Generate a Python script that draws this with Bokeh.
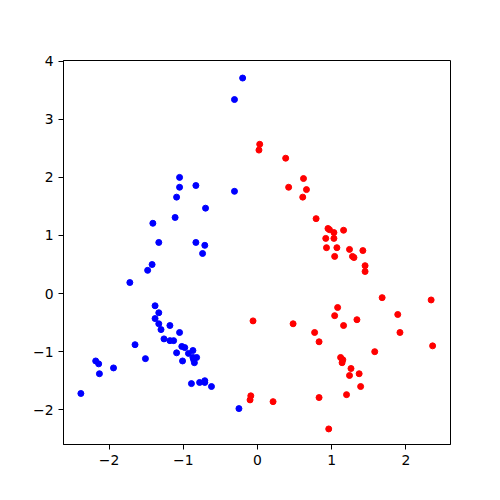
from bokeh.plotting import figure
from bokeh.models import Range1d, FixedTicker
from bokeh.embed import file_html
from bokeh.resources import INLINE

blue_x = [-0.20, -0.31, -1.05, -1.05, -0.83, -0.31, -1.09, -0.70, -1.11, -1.41,
          -1.33, -0.83, -0.71, -0.74, -1.42, -1.48, -1.72, -1.38, -1.33, -1.38,
          -1.33, -1.18, -1.30, -1.05, -1.26, -1.18, -1.13, -1.02, -0.98, -0.87,
          -0.93, -1.09, -0.87, -0.82, -1.01, -0.86, -0.85, -1.65, -1.51, -2.18,
          -2.14, -1.94, -2.13, -2.38, -0.89, -0.78, -0.71, -0.71, -0.62, -0.25]
blue_y = [3.71, 3.34, 2.00, 1.83, 1.86, 1.76, 1.66, 1.47, 1.31, 1.21,
          0.88, 0.88, 0.83, 0.69, 0.50, 0.40, 0.19, -0.21, -0.33, -0.43,
          -0.52, -0.55, -0.62, -0.67, -0.78, -0.81, -0.81, -0.91, -0.93, -0.98,
          -1.03, -1.02, -1.10, -1.10, -1.16, -1.14, -1.19, -0.88, -1.12, -1.16,
          -1.21, -1.28, -1.38, -1.72, -1.55, -1.53, -1.50, -1.53, -1.60, -1.98]

red_x = [0.03, 0.02, 0.38, 0.62, 0.42, 0.66, 0.61, 0.79, 0.95, 0.97,
         1.03, 1.16, 0.92, 1.03, 0.93, 1.07, 1.24, 1.42, 1.04, 1.28,
         1.30, 1.45, 1.45, 1.68, 2.34, 1.08, 1.04, 1.89, 1.34, -0.06,
         0.48, 1.16, 0.77, 1.92, 0.83, 2.36, 1.58, 1.12, 1.15, 1.14,
         1.26, 1.24, 1.37, 1.39, -0.09, -0.10, 0.21, 0.83, 1.20, 0.96]
red_y = [2.57, 2.47, 2.33, 1.98, 1.83, 1.79, 1.66, 1.29, 1.12, 1.10,
         1.05, 1.09, 0.95, 0.95, 0.79, 0.79, 0.76, 0.74, 0.64, 0.64,
         0.62, 0.48, 0.38, -0.07, -0.11, -0.24, -0.38, -0.36, -0.45, -0.47,
         -0.52, -0.55, -0.67, -0.67, -0.83, -0.90, -1.00, -1.10, -1.14, -1.19,
         -1.29, -1.41, -1.38, -1.60, -1.76, -1.83, -1.86, -1.79, -1.74, -2.33]

x_ticks = [-2, -1, 0, 1, 2]
y_ticks = [-2, -1, 0, 1, 2, 3, 4]


def lab(v):
    return ("\u2212" + str(abs(v))) if v < 0 else str(v)


p = figure(width=492, height=492, output_backend="svg", toolbar_location=None,
           x_range=Range1d(-2.614, 2.601), y_range=Range1d(-2.598, 4.012),
           min_border_left=63, min_border_right=42, min_border_top=60,
           min_border_bottom=48)

p.scatter(blue_x, blue_y, size=6, fill_color="#0000ff", line_color="#0000ff")
p.scatter(red_x, red_y, size=6, fill_color="#ff0000", line_color="#ff0000")

p.grid.visible = False
p.outline_line_color = "black"
p.outline_line_alpha = 1.0
p.outline_line_width = 1

p.xaxis.ticker = FixedTicker(ticks=x_ticks)
p.yaxis.ticker = FixedTicker(ticks=y_ticks)
p.xaxis.major_label_overrides = {float(v): lab(v) for v in x_ticks}
p.yaxis.major_label_overrides = {float(v): lab(v) for v in y_ticks}

for ax in (p.xaxis[0], p.yaxis[0]):
    ax.major_tick_in = 0
    ax.major_tick_out = 5
    ax.minor_tick_line_color = None
    ax.major_label_text_font = "DejaVu Sans"
    ax.major_label_text_font_size = "13.9px"
    ax.major_label_text_color = "black"
    ax.major_label_standoff = 5
    ax.axis_line_color = "black"
    ax.major_tick_line_color = "black"

open("out.html", "w").write(file_html(p, INLINE))
